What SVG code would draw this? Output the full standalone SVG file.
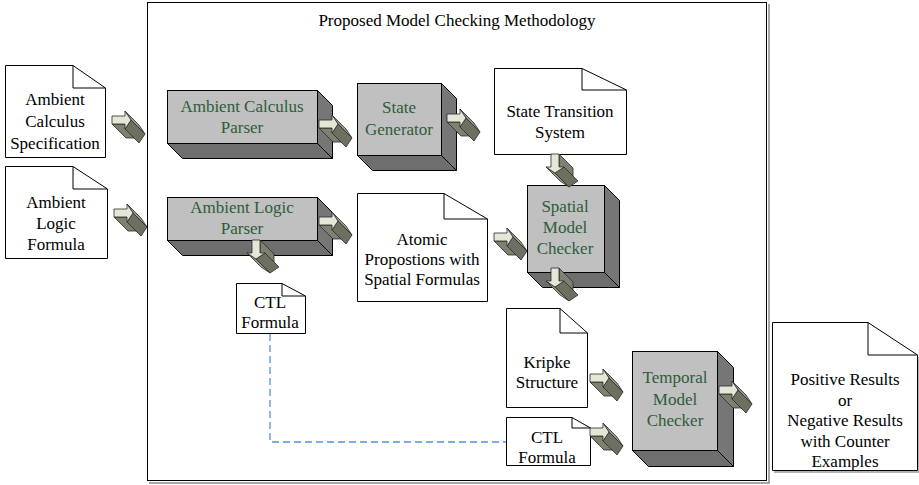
<svg xmlns="http://www.w3.org/2000/svg" xmlns:xlink="http://www.w3.org/1999/xlink" width="919" height="485" viewBox="0 0 919 485" font-family="'Liberation Serif', 'DejaVu Serif', serif" font-size="17">
<style>
text{font-family:'Liberation Serif','DejaVu Serif',serif;font-size:17px;text-anchor:middle;fill:#000}
.bx text{fill:#2e5c3a}
.doc{fill:#fff;stroke:#000;stroke-width:1}
.fold{fill:none;stroke:#000;stroke-width:1}
.front{fill:#c0c0c0;stroke:#000;stroke-width:1}
.side{fill:#767676;stroke:#000;stroke-width:1;stroke-linejoin:miter}
.bot{fill:#6e6e6e;stroke:#000;stroke-width:1}
.a1{fill:#e4e7d5;stroke:#2a2a2a;stroke-width:0.8;stroke-linejoin:round}
.a2{fill:#7d8270;stroke:#2a2a2a;stroke-width:0.8;stroke-linejoin:round}
.a3{fill:#979b88;stroke:#2a2a2a;stroke-width:0.8;stroke-linejoin:round}
.a4{fill:#6c7060;stroke:#2a2a2a;stroke-width:0.8;stroke-linejoin:round}
.dash{fill:none;stroke:#5a8fdb;stroke-width:1.3;stroke-dasharray:7 4}
</style>
<defs>
<g id="arr">
<polygon class="a2" points="0,8 13,8 27,22 14,22"/>
<polygon class="a3" points="13,-5 19,4 33,18 27,9"/>
<polygon class="a4" points="19,4 13,13 27,27 33,18"/>
<polygon class="a1" points="0,0 13,0 13,-5 19,4 13,13 13,8 0,8"/>
</g>
</defs>
<rect width="919" height="485" fill="#fff"/>

<g id="frame">
<polyline points="769,4 769,483 149,483" fill="none" stroke="#8a8a8a" stroke-width="1.5"/>
<rect x="147.5" y="2.5" width="619" height="478" fill="none" stroke="#000" stroke-width="1"/>
<text x="457" y="26">Proposed Model Checking Methodology</text>
</g>

<g id="ambient-calculus-spec">
<path class="doc" d="M5.5,65.5 H73 L105.5,88 V157.5 H5.5 Z"/>
<path class="fold" d="M73,65.5 V88 H105.5"/>
<text x="55" y="105">Ambient</text>
<text x="55" y="127">Calculus</text>
<text x="55" y="149">Specification</text>
</g>

<g id="ambient-logic-formula">
<path class="doc" d="M5.5,166.5 H73 L107.5,189 V258.5 H5.5 Z"/>
<path class="fold" d="M73,166.5 V189 H107.5"/>
<text x="56" y="208">Ambient</text>
<text x="56" y="229">Logic</text>
<text x="56" y="250">Formula</text>
</g>

<g id="ambient-calculus-parser" class="bx">
<polygon class="side" points="317.5,90.5 332.5,105.5 332.5,158.5 317.5,143.5"/>
<polygon class="bot" points="167.5,143.5 317.5,143.5 332.5,158.5 182.5,158.5"/>
<rect class="front" x="167.5" y="90.5" width="150" height="53"/>
<text x="242" y="112">Ambient Calculus</text>
<text x="242" y="133">Parser</text>
</g>

<g id="state-generator" class="bx">
<polygon class="side" points="441.5,83.5 456.5,98.5 456.5,170.5 441.5,155.5"/>
<polygon class="bot" points="357.5,155.5 441.5,155.5 456.5,170.5 372.5,170.5"/>
<rect class="front" x="357.5" y="83.5" width="84" height="72"/>
<text x="399" y="113">State</text>
<text x="399" y="135">Generator</text>
</g>

<g id="state-transition-system">
<path class="doc" d="M494.5,68.5 H582 L626.5,90 V154.5 H494.5 Z"/>
<path class="fold" d="M582,68.5 V90 H626.5"/>
<text x="560" y="117">State Transition</text>
<text x="560" y="138">System</text>
</g>

<g id="ambient-logic-parser" class="bx">
<polygon class="side" points="317.5,197.5 332.5,212.5 332.5,255.5 317.5,240.5"/>
<polygon class="bot" points="167.5,240.5 317.5,240.5 332.5,255.5 182.5,255.5"/>
<rect class="front" x="167.5" y="197.5" width="150" height="43"/>
<text x="242" y="213">Ambient Logic</text>
<text x="242" y="234">Parser</text>
</g>

<g id="atomic-propositions">
<path class="doc" d="M357.5,193.5 H444 L487.5,219 V301.5 H357.5 Z"/>
<path class="fold" d="M444,193.5 V219 H487.5"/>
<text x="422" y="245">Atomic</text>
<text x="422" y="265">Propostions with</text>
<text x="422" y="285">Spatial Formulas</text>
</g>

<g id="spatial-model-checker" class="bx">
<polygon class="side" points="604.5,185.5 619.5,200.5 619.5,287.5 604.5,272.5"/>
<polygon class="bot" points="527.5,272.5 604.5,272.5 619.5,287.5 542.5,287.5"/>
<rect class="front" x="527.5" y="185.5" width="77" height="87"/>
<text x="565" y="212">Spatial</text>
<text x="565" y="233">Model</text>
<text x="565" y="254">Checker</text>
</g>

<g id="ctl-formula-1">
<path class="doc" d="M236.5,283.5 H282 L305.5,296 V333.5 H236.5 Z"/>
<path class="fold" d="M282,283.5 V296 H305.5"/>
<text x="270" y="308">CTL</text>
<text x="270" y="328">Formula</text>
</g>

<g id="kripke-structure">
<path class="doc" d="M506.5,308.5 H560 L587.5,333 V407.5 H506.5 Z"/>
<path class="fold" d="M560,308.5 V333 H587.5"/>
<text x="547" y="368">Kripke</text>
<text x="547" y="388">Structure</text>
</g>

<g id="ctl-formula-2">
<path class="doc" d="M506.5,417.5 H572 L590.5,428 V465.5 H506.5 Z"/>
<path class="fold" d="M572,417.5 V428 H590.5"/>
<text x="547" y="443">CTL</text>
<text x="547" y="463">Formula</text>
</g>

<g id="temporal-model-checker" class="bx">
<polygon class="side" points="717.5,351.5 733.5,367.5 733.5,466.5 717.5,450.5"/>
<polygon class="bot" points="632.5,450.5 717.5,450.5 733.5,466.5 648.5,466.5"/>
<rect class="front" x="632.5" y="351.5" width="85" height="99"/>
<text x="675" y="383">Temporal</text>
<text x="675" y="405">Model</text>
<text x="675" y="426">Checker</text>
</g>

<g id="results">
<polyline points="919,357 919,472 774,472" fill="none" stroke="#9a9a9a" stroke-width="1.5"/>
<path class="doc" d="M772.5,322.5 H868 L917.5,355 V470.5 H772.5 Z"/>
<path class="fold" d="M868,322.5 V355 H917.5"/>
<text x="845" y="385">Positive Results</text>
<text x="845" y="406">or</text>
<text x="845" y="426">Negative Results</text>
<text x="845" y="447">with Counter</text>
<text x="845" y="467">Examples</text>
</g>

<g id="connectors">
<path class="dash" d="M270,334 V442 H506"/>
<use xlink:href="#arr" transform="translate(112,116)"/>
<use xlink:href="#arr" transform="translate(114,209)"/>
<use xlink:href="#arr" transform="translate(319,120)"/>
<use xlink:href="#arr" transform="translate(447,114)"/>
<use xlink:href="#arr" transform="translate(319,217)"/>
<use xlink:href="#arr" transform="translate(494,233)"/>
<use xlink:href="#arr" transform="translate(590,374)"/>
<use xlink:href="#arr" transform="translate(590,428)"/>
<use xlink:href="#arr" transform="translate(719,386)"/>
<use xlink:href="#arr" transform="matrix(0,1,1,0,551,154)"/>
<use xlink:href="#arr" transform="matrix(0,1,1,0,551,268)"/>
<use xlink:href="#arr" transform="matrix(0,1,1,0,252,240)"/>
</g>
</svg>
